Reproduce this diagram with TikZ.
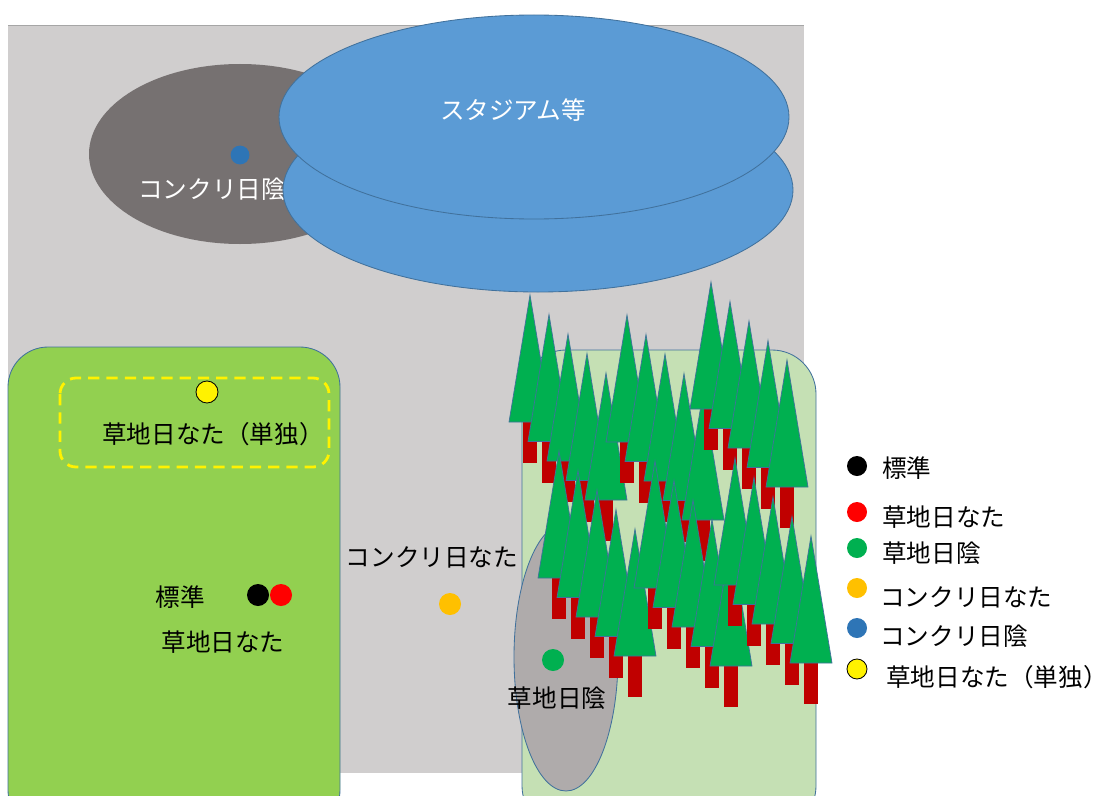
\documentclass[tikz,border=0pt]{standalone}
\usepackage{fontspec}
\newfontfamily\jp{Noto Sans CJK JP}
\definecolor{ground}{HTML}{D0CECE}
\definecolor{shadegray}{HTML}{767171}
\definecolor{stadium}{HTML}{5B9BD5}
\definecolor{rim}{HTML}{41719C}
\definecolor{lawn}{HTML}{92D050}
\definecolor{pale}{HTML}{C5E0B4}
\definecolor{stone}{HTML}{AFABAB}
\definecolor{leafgreen}{HTML}{00B050}
\definecolor{bark}{HTML}{C00000}
\definecolor{amber}{HTML}{FFC000}
\definecolor{navy}{HTML}{2E75B6}

\begin{document}
\begin{tikzpicture}
    [x=0.025cm,y=-0.025cm,
     spot/.style={circle,inner sep=0pt,minimum size=0.55cm},
     txt/.style={font=\jp\fontsize{17.5}{20}\selectfont,inner sep=0pt},
     leaf/.style={fill=leafgreen,draw=rim,line width=0.5pt},
     trunk/.style={fill=bark}]
    \clip (0,0) rectangle (1109,795);
    \fill[white] (0,0) rectangle (1109,795);
    % ground
    \fill[ground] (8,25) rectangle (804,773);
    \draw[gray!70,line width=0.5pt] (8,25) -- (804,25);
    % shaded concrete behind the stadium
    \fill[shadegray] (240,154) ellipse [x radius=151, y radius=90];
    \node[spot,fill=navy,minimum size=0.47cm] (d_cs) at (240,155) {};
    \node[txt,text=white] (t_cs) at (212,189) {コンクリ日陰};
    % stadium
    \filldraw[fill=stadium,draw=rim,line width=0.6pt] (538,190) ellipse [x radius=255, y radius=102];
    \filldraw[fill=stadium,draw=rim,line width=0.6pt] (534,117) ellipse [x radius=255, y radius=102];
    \node[txt,text=white] (t_st) at (513,110) {スタジアム等};
    % lawns
    \filldraw[fill=lawn,draw=rim,line width=0.6pt,rounded corners=1cm] (8,347) rectangle (340,830);
    \filldraw[fill=pale,draw=rim,line width=0.6pt,rounded corners=1.1cm] (522,350) rectangle (816,830);
    \filldraw[fill=stone,draw=rim,line width=0.6pt] (566,657) ellipse [x radius=52, y radius=134];
    % isolated lawn spot
    \draw[yellow,line width=2pt,dash pattern=on 8pt off 5pt,rounded corners=0.4cm] (60,378) rectangle (329,467);
    \node[spot,fill=yellow,draw=black,line width=0.6pt] (d_ls) at (207,392) {};
    \node[txt] (t_ls) at (213,434) {草地日なた（単独）};
    % standard and lawn sun
    \node[spot,fill=black] (d_std) at (258,595) {};
    \node[spot,fill=red] (d_lsun) at (281,595) {};
    \node[txt] (t_std) at (180,597) {標準};
    \node[txt] (t_lsun) at (223,642) {草地日なた};
    % concrete sun
    \node[txt] (t_csun) at (432,557) {コンクリ日なた};
    \node[spot,fill=amber] (d_csun) at (450,604) {};
    % forest, six rows of five trees
    \foreach \ax/\ay in {530/295, 627/315, 711/282, 559/451, 655/461, 735/458}
      \foreach \k in {0,...,4}{
        \pgfmathsetmacro\tx{\ax+19*\k}
        \pgfmathsetmacro\ty{\ay+19.5*\k}
        \fill[trunk] ({\tx-7},{\ty+126}) rectangle ({\tx+7},{\ty+168});
        \filldraw[leaf] (\tx,\ty) -- ({\tx-21},{\ty+127}) -- ({\tx+21},{\ty+127}) -- cycle;
      }
    % lawn shade
    \node[spot,fill=leafgreen] (d_lsh) at (553,660) {};
    \node[txt] (t_lsh) at (557,698) {草地日陰};
    % legend
    \node[spot,fill=black,minimum size=0.5cm] (k1) at (857,466) {};
    \node[spot,fill=red,minimum size=0.5cm] (k2) at (857,512) {};
    \node[spot,fill=leafgreen,minimum size=0.5cm] (k3) at (857,548) {};
    \node[spot,fill=amber,minimum size=0.5cm] (k4) at (857,588) {};
    \node[spot,fill=navy,minimum size=0.5cm] (k5) at (857,628) {};
    \node[spot,fill=yellow,draw=black,line width=0.6pt,minimum size=0.5cm] (k6) at (857,669) {};
    \node[txt,anchor=west] (l1) at (882,468) {標準};
    \node[txt,anchor=west] (l2) at (882,517) {草地日なた};
    \node[txt,anchor=west] (l3) at (882,553) {草地日陰};
    \node[txt,anchor=west] (l4) at (880,597) {コンクリ日なた};
    \node[txt,anchor=west] (l5) at (880,636) {コンクリ日陰};
    \node[txt,anchor=west] (l6) at (886,677) {草地日なた（単独）};
\end{tikzpicture}
\end{document}
